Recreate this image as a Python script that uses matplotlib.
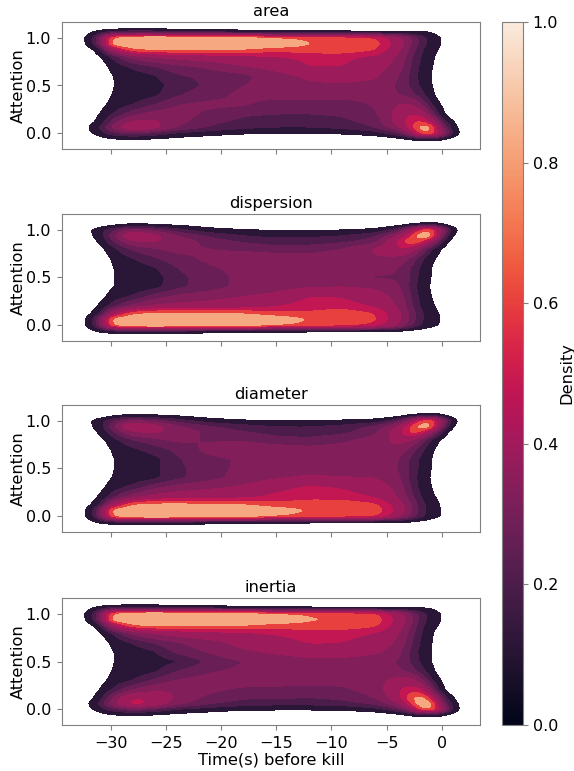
import numpy as np
import matplotlib
matplotlib.use('Agg')
import matplotlib.pyplot as plt
import seaborn as sns

# density estimates, in contour band units (1 = outermost contour)
TIME = [-33, -31, -30, -28, -26, -24, -21, -18, -15, -12, -9, -6, -4, -3, -2, -1, 0, 1, 2]
ATTENTION = [1.12, 1.06, 1.0, 0.94, 0.88, 0.8, 0.7, 0.6, 0.5, 0.4, 0.3, 0.2, 0.12, 0.06, 0.0, -0.06, -0.12]

TITLES = ['area', 'dispersion', 'diameter', 'inertia']
XTICKS = [-30, -25, -20, -15, -10, -5, 0]
YTICKS = [0.0, 0.5, 1.0]
CBAR_TICKS = [0.0, 0.2, 0.4, 0.6, 0.8, 1.0]

AREA = [
    [0, 0, 0, 0, 0, 0, 0, 0, 0, 0, 0, 0, 0, 0, 0, 0, 0, 0, 0],
    [0, 1.5, 2.2, 2.6, 2.5, 2.2, 1.9, 1.6, 1.4, 1.3, 1.2, 1.2, 1.2, 1.2, 1.15, 1.1, .4, 0, 0],
    [0, 3, 8, 9.2, 9.4, 9.3, 9.1, 8.8, 8.0, 7.7, 7.5, 7.0, 5, 4, 2.5, 1.6, 1.0, 0, 0],
    [0, 2.8, 8.6, 9.4, 9.5, 9.5, 9.4, 9.3, 9.0, 8.0, 7.8, 7.5, 5.3, 4, 2.5, 1.6, 1, 0, 0],
    [0, 1.3, 5, 7.8, 8.1, 8.2, 8.1, 8.0, 7.4, 7.6, 7.7, 7.1, 5, 3.6, 2.2, 1.4, .8, 0, 0],
    [0, .7, 2, 4, 4.6, 5, 5.3, 5.6, 5.9, 6.3, 6.3, 5.7, 4.5, 3.2, 2, 1.3, .4, 0, 0],
    [0, .2, 1.3, 2.2, 2.8, 3.3, 3.8, 4.5, 5, 6, 6, 5, 4.2, 3, 1.8, 1.2, .2, 0, 0],
    [0, 0, 1.0, 1.5, 1.9, 2.7, 3, 3.3, 4.2, 4.8, 5.1, 4.8, 3.7, 2.8, 1.7, 1.1, 0, 0, 0],
    [0, 0, 1.0, 1.3, 1.7, 2.3, 3, 3.6, 4, 4.4, 4.4, 4.2, 3.5, 2.8, 1.9, 1.2, 0, 0, 0],
    [0, .1, 1.1, 1.4, 1.8, 2.7, 3.3, 3.8, 3.9, 4, 3.9, 3.9, 3.7, 3.3, 2.5, 1.4, .2, 0, 0],
    [0, .5, 1.3, 2, 2.8, 3.6, 3.8, 3.7, 3.2, 3.1, 3.2, 3.7, 4.6, 4.8, 4, 2, .8, 0, 0],
    [0, .9, 1.9, 3.3, 4, 4, 3.4, 2.9, 2.8, 2.8, 2.9, 3.4, 5, 6, 6, 3.5, 1.2, 0, 0],
    [0, 1.2, 3, 4.8, 4.8, 3.9, 3, 2.6, 2.4, 2.4, 2.6, 3.1, 5, 6.5, 7.4, 6, 2.5, 1, 0],
    [0, 2, 3.6, 6, 5, 3.5, 2.7, 2.2, 2, 2, 2.2, 2.8, 4.2, 6, 8.7, 8.8, 3.5, 1.4, .3],
    [0, 1.5, 2.5, 3.2, 2.6, 1.9, 1.5, 1.2, 1.1, 1.1, 1.2, 1.6, 2.6, 4, 7.6, 8.4, 5, 1.7, .3],
    [0, .5, 1, 1.1, 1, .7, .4, 0, 0, 0, 0, .3, .7, 1.1, 1.5, 1.6, 1.3, .6, 0],
    [0, 0, 0, 0, 0, 0, 0, 0, 0, 0, 0, 0, 0, 0, 0, 0, 0, 0, 0],
]

DISPERSION = [
    [0, 0, 0, 0, 0, 0, 0, 0, 0, 0, 0, 0, 0, 0, 0, 0, 0, 0, 0],
    [0, .2, .6, 1.1, .9, .7, .3, 0, 0, 0, 0, 0, .4, .9, 1.2, 1.5, 1.1, .3, 0],
    [0, 1.6, 2.4, 3.9, 3.2, 2.3, 1.4, 1.1, .9, .9, 1.0, 1.3, 2.5, 4.2, 7, 8.6, 4.4, 1.4, .2],
    [0, 1.4, 3, 6.2, 5, 3.6, 2.6, 2, 1.7, 1.8, 2, 2.6, 4.5, 6.5, 9, 9.2, 3, .9, 0],
    [0, 1, 2.5, 4.5, 4.7, 4.2, 3.2, 2.7, 2.4, 2.4, 2.6, 3.2, 6, 8, 7.6, 5, 1.8, .3, 0],
    [0, .5, 1.6, 3, 3.5, 3.9, 3.6, 3.4, 3.1, 3.2, 3.6, 4.7, 6, 5.8, 4, 2, .9, 0, 0],
    [0, .1, 1.1, 2, 2.7, 3.3, 3.8, 4.2, 4.2, 4, 4.2, 4.5, 4.2, 3.7, 2.4, 1.3, .5, 0, 0],
    [0, 0, 1, 1.4, 1.9, 2.8, 3.5, 3.8, 4, 4, 4, 4, 3.7, 3, 1.9, 1.1, 0, 0, 0],
    [0, 0, 1.0, 1.3, 1.6, 2.5, 3.3, 3.8, 4, 3.9, 3.8, 3.5, 3.5, 3, 1.7, 1.1, 0, 0, 0],
    [0, .1, 1, 1.3, 1.7, 2.6, 3.2, 3.9, 4.2, 4.5, 4.6, 4.4, 3.8, 2.9, 1.5, 1, 0, 0, 0],
    [0, .5, 1.4, 2.1, 3.2, 3.8, 4.2, 4.6, 4.9, 6, 5.9, 5.2, 4.2, 3.1, 1.7, 1.1, .2, 0, 0],
    [0, 1, 2.3, 3.9, 4.8, 5, 5.1, 5.3, 5.9, 6.5, 6.5, 5.8, 4.5, 3.3, 1.9, 1.2, .6, 0, 0],
    [0, 1.6, 5, 7.8, 8.2, 8.2, 8.1, 8, 7.3, 7.2, 7.7, 7, 5, 3.6, 2.2, 1.4, .9, 0, 0],
    [0, 2.8, 8.4, 9.3, 9.5, 9.5, 9.4, 9.3, 8.9, 7.9, 7.9, 7.2, 5, 3.6, 2.2, 1.4, 1, 0, 0],
    [0, 2.8, 8, 9.3, 9.5, 9.4, 9.3, 9, 8.1, 7.6, 7.4, 6.6, 4.6, 3.2, 2, 1.3, .9, 0, 0],
    [0, 1.3, 1.8, 2.1, 2, 1.8, 1.6, 1.4, 1.2, 1.2, 1.1, 1.1, 1.05, .8, .6, .4, .2, 0, 0],
    [0, 0, 0, 0, 0, 0, 0, 0, 0, 0, 0, 0, 0, 0, 0, 0, 0, 0, 0],
]

DIAMETER = [
    [0, 0, 0, 0, 0, 0, 0, 0, 0, 0, 0, 0, 0, 0, 0, 0, 0, 0, 0],
    [0, .2, .7, 1.2, 1, .8, .3, 0, 0, 0, 0, 0, .4, 1, 1.3, 1.7, 1.2, .3, 0],
    [0, 1.6, 2.6, 4, 3.3, 2.5, 1.6, 1.2, 1.1, 1.1, 1.2, 1.5, 2.6, 4.2, 7.2, 8.6, 4.4, 1.4, .2],
    [0, 1.4, 3, 6.3, 5.2, 3.8, 2.9, 2.4, 2, 2, 2.3, 3, 4.6, 6.8, 8.7, 8.9, 3, .9, 0],
    [0, 1, 2.4, 4.4, 4.7, 4.3, 3.3, 2.9, 2.5, 2.4, 2.6, 3.4, 5.2, 7.4, 7.2, 4.4, 1.7, .3, 0],
    [0, .5, 1.5, 2.8, 3.3, 3.8, 3.5, 3.5, 3.1, 3, 3.4, 4, 5, 5, 3.6, 1.8, .8, 0, 0],
    [0, .1, 1.1, 1.8, 2.4, 3, 3.9, 4.2, 4.1, 3.9, 4, 4.2, 4.2, 3.5, 2.4, 1.3, .3, 0, 0],
    [0, 0, 1, 1.3, 1.7, 2.7, 3.4, 3.7, 4, 4.3, 4.1, 4.1, 3.8, 2.8, 1.9, 1.1, 0, 0, 0],
    [0, 0, 1.0, 1.3, 1.8, 2.6, 3.3, 3.8, 4.1, 4.2, 3.9, 3.9, 3.7, 2.8, 1.8, 1.1, 0, 0, 0],
    [0, .1, 1.1, 1.4, 1.8, 2.6, 3.3, 4, 4.5, 4.8, 4.7, 4.6, 3.9, 2.8, 1.6, 1, 0, 0, 0],
    [0, .5, 1.5, 2.3, 3.4, 4, 4.4, 4.8, 5.6, 6.2, 5.9, 5.2, 4.3, 3, 1.7, 1.1, .2, 0, 0],
    [0, 1, 2.4, 4.2, 5.1, 5.4, 5.5, 5.7, 6.3, 6.7, 6.5, 5.9, 4.6, 3.4, 2, 1.2, .7, 0, 0],
    [0, 1.6, 5, 8, 8.3, 8.3, 8.2, 8, 7.4, 7.5, 7.7, 7.2, 5.4, 3.9, 2.4, 1.5, .9, 0, 0],
    [0, 2.8, 8.4, 9.3, 9.5, 9.5, 9.4, 9.2, 8.6, 7.9, 7.9, 7.7, 5.6, 4.1, 2.5, 1.5, 1, 0, 0],
    [0, 2.8, 8, 9.3, 9.5, 9.4, 9.3, 8.9, 8, 7.6, 7.5, 7.1, 5, 3.6, 2.3, 1.5, 1, 0, 0],
    [0, 1.3, 1.8, 2.2, 2.1, 1.9, 1.6, 1.5, 1.3, 1.2, 1.1, 1.1, 1.1, 1, .8, .5, .2, 0, 0],
    [0, 0, 0, 0, 0, 0, 0, 0, 0, 0, 0, 0, 0, 0, 0, 0, 0, 0, 0],
]

INERTIA = [
    [0, 0, 0, 0, 0, 0, 0, 0, 0, 0, 0, 0, 0, 0, 0, 0, 0, 0, 0],
    [0, 1.5, 2.2, 2.5, 2.4, 2.1, 1.8, 1.5, 1.3, 1.2, 1.1, 1.1, 1.1, 1.1, 1.1, 1.05, .4, 0, 0],
    [0, 3, 8, 9.2, 9.4, 9.3, 9.1, 8.8, 8.1, 7.8, 7.6, 7.2, 5.2, 4, 2.5, 1.6, 1.0, 0, 0],
    [0, 2.8, 8.6, 9.4, 9.5, 9.5, 9.4, 9.3, 9.0, 8.1, 7.9, 7.6, 5.6, 4.2, 2.5, 1.6, 1, 0, 0],
    [0, 1.3, 5, 7.9, 8.2, 8.2, 8.1, 8, 7.5, 7.6, 7.7, 7.2, 5.4, 3.9, 2.3, 1.4, .8, 0, 0],
    [0, .7, 1.9, 3.9, 4.8, 5.2, 5.6, 5.8, 6.2, 6.6, 6.4, 6, 4.8, 3.5, 2.1, 1.2, .3, 0, 0],
    [0, .2, 1.2, 2.1, 2.9, 3.5, 4.2, 5, 5.3, 6.1, 6, 5.4, 4.4, 3.2, 1.9, 1.1, .2, 0, 0],
    [0, 0, 1.0, 1.4, 1.9, 3, 3.7, 4.4, 4.8, 5.1, 5.2, 4.8, 4, 2.9, 1.7, 1.1, 0, 0, 0],
    [0, 0, 1.0, 1.3, 1.6, 1.9, 3, 3.6, 3.9, 4.3, 4.2, 3.9, 3.6, 2.9, 1.9, 1.1, 0, 0, 0],
    [0, .1, 1.1, 1.4, 1.8, 2.8, 3.5, 3.8, 4, 4, 4, 3.9, 3.8, 3.4, 2.5, 1.4, .2, 0, 0],
    [0, .5, 1.3, 2, 3, 3.7, 4, 4, 3.9, 3.9, 3.9, 4.2, 5, 5.2, 4.2, 2.2, .8, 0, 0],
    [0, .9, 2, 3.7, 4.4, 4.5, 3.8, 3.4, 3.4, 3.3, 3.4, 4, 5.8, 6.6, 6.8, 3.8, 1.2, 0, 0],
    [0, 1.3, 3.4, 6, 5.6, 4.4, 3.3, 2.9, 2.9, 2.8, 3, 3.6, 5.3, 7.6, 8.8, 6.8, 2.5, 1, 0],
    [0, 2, 4, 6.6, 5.6, 3.9, 2.9, 2.5, 2.3, 2.3, 2.5, 3, 4.4, 6.4, 9.2, 9, 3.6, 1.4, .3],
    [0, 1.5, 2.5, 3.4, 2.8, 2, 1.6, 1.3, 1.2, 1.2, 1.3, 1.7, 2.7, 4, 7.5, 8.9, 5, 1.7, .3],
    [0, .5, 1, 1.1, 1, .7, .4, 0, 0, 0, 0, .3, .7, 1.1, 1.5, 1.6, 1.3, .6, 0],
    [0, 0, 0, 0, 0, 0, 0, 0, 0, 0, 0, 0, 0, 0, 0, 0, 0, 0, 0],
]

PANELS = [AREA, DISPERSION, DIAMETER, INERTIA]

W, H = 574, 771
LEVELS = [1, 2, 2.8, 3.6, 4.6, 6, 7, 8, 11]
BAND_POS = [0.11, 0.2, 0.27, 0.33, 0.39, 0.48, 0.6, 0.83]
GRAY = '#808080'
FS = 11.7


def smooth(values, sigma):
    # gaussian pass along rows, the surface is only refined for drawing
    half = int(3 * sigma) + 1
    kernel = np.exp(-0.5 * (np.arange(-half, half + 1) / sigma) ** 2)
    kernel /= kernel.sum()
    return np.apply_along_axis(lambda r: np.convolve(r, kernel, mode='same'), 1, values)


def refine(grid):
    t = np.array(TIME, dtype=float)
    a = np.array(ATTENTION, dtype=float)[::-1]
    z = np.array(grid, dtype=float)[::-1]
    fine_t = np.arange(-34, 3.01, 0.1)
    fine_a = np.arange(-0.16, 1.161, 0.004)
    z = np.array([np.interp(fine_t, t, row) for row in z])
    z = np.array([np.interp(fine_a, a, col) for col in z.T]).T
    z = smooth(z, 5)
    z = smooth(z.T, 3).T
    return fine_t, fine_a, z


def axes_px(fig, left, top, right, bottom):
    return fig.add_axes([left / W, 1 - bottom / H, (right - left) / W, (bottom - top) / H])


fig = plt.figure(figsize=(W / 100, H / 100), dpi=100)
cmap = sns.color_palette('rocket', as_cmap=True)
band_colors = [cmap(p) for p in BAND_POS]

tops = [22, 214, 405, 598]
for i, (name, grid) in enumerate(zip(TITLES, PANELS)):
    ax = axes_px(fig, 62, tops[i], 480, tops[i] + 127)
    tt, aa, z = refine(grid)
    ax.contourf(tt, aa, z, levels=LEVELS, colors=band_colors)
    ax.set_xlim(-34.4, 3.45)
    ax.set_ylim(-0.168, 1.168)
    ax.set_xticks(XTICKS)
    ax.set_yticks(YTICKS)
    ax.tick_params(labelsize=11.5, color=GRAY, pad=4.5)
    ax.set_title(name, fontsize=FS, pad=4)
    ax.set_ylabel('Attention', fontsize=FS, labelpad=0)
    if i < 3:
        ax.set_xticklabels([])
    else:
        ax.set_xlabel('Time(s) before kill', fontsize=FS, labelpad=1)
    for s in ax.spines.values():
        s.set_color(GRAY)

cax = axes_px(fig, 502, 22, 523, 725)
sm = plt.cm.ScalarMappable(cmap=cmap, norm=plt.Normalize(0, 1))
cb = fig.colorbar(sm, cax=cax)
cb.set_ticks(CBAR_TICKS)
cb.ax.tick_params(labelsize=11.5, color=GRAY)
cb.set_label('Density', fontsize=FS, labelpad=1)
cb.outline.set_edgecolor(GRAY)

fig.savefig('out.png', dpi=100)
